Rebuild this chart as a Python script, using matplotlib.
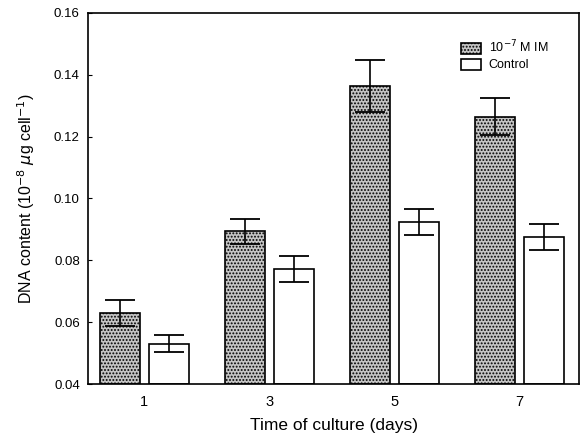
import matplotlib
matplotlib.use('Agg')
import matplotlib.pyplot as plt
import numpy as np

plt.rcParams['font.family'] = ['Liberation Sans', 'DejaVu Sans']
plt.rcParams['hatch.linewidth'] = 0.9
plt.rcParams['hatch.color'] = '#333333'

days = [1, 3, 5, 7]
im_vals = [0.063, 0.0894, 0.1364, 0.1264]
im_err = [0.0043, 0.0040, 0.0085, 0.0060]
ctrl_vals = [0.0531, 0.0772, 0.0923, 0.0876]
ctrl_err = [0.0028, 0.0041, 0.0042, 0.0043]

fig = plt.figure(figsize=(5.8, 4.42), dpi=100)
ax = fig.add_axes([0.152, 0.131, 0.846, 0.840])

x = np.array(days, dtype=float)
w = 0.64
off = 0.39
ax.bar(x - off, np.array(im_vals) - 0.04, w, bottom=0.04, color='#c4c4c4',
       edgecolor='black', linewidth=1.2, hatch='.....', label='10$^{-7}$ M IM')
ax.bar(x + off, np.array(ctrl_vals) - 0.04, w, bottom=0.04, color='white',
       edgecolor='black', linewidth=1.2, label='Control')
ax.errorbar(x - off, im_vals, yerr=im_err, fmt='none', ecolor='black',
            elinewidth=1.2, capsize=11, capthick=1.3)
ax.errorbar(x + off, ctrl_vals, yerr=ctrl_err, fmt='none', ecolor='black',
            elinewidth=1.2, capsize=11, capthick=1.3)

ax.set_xlim(0.1, 7.95)
ax.set_ylim(0.04, 0.16)
ax.set_xticks(days)
ax.set_xticklabels([str(d) for d in days])
ax.set_yticks([0.04, 0.06, 0.08, 0.10, 0.12, 0.14, 0.16])
ax.set_yticklabels(['0.04', '0.06', '0.08', '0.10', '0.12', '0.14', '0.16'])
ax.tick_params(axis='y', direction='in', length=3, labelsize=9.5, pad=6)
ax.tick_params(axis='x', length=0, labelsize=10.5, pad=8)
for s in ax.spines.values():
    s.set_linewidth(1.2)

ax.set_ylabel('DNA content (10$^{-8}$ $\\mu$g cell$^{-1}$)', fontsize=11.5, labelpad=12)
ax.set_xlabel('Time of culture (days)', fontsize=12.5, labelpad=6)

ax.legend(loc='upper left', bbox_to_anchor=(0.76, 0.93), frameon=False,
          fontsize=9, handlelength=1.6, handleheight=1.0, handletextpad=0.6,
          labelspacing=0.25, borderaxespad=0, borderpad=0)

fig.savefig('out.png', dpi=100)
